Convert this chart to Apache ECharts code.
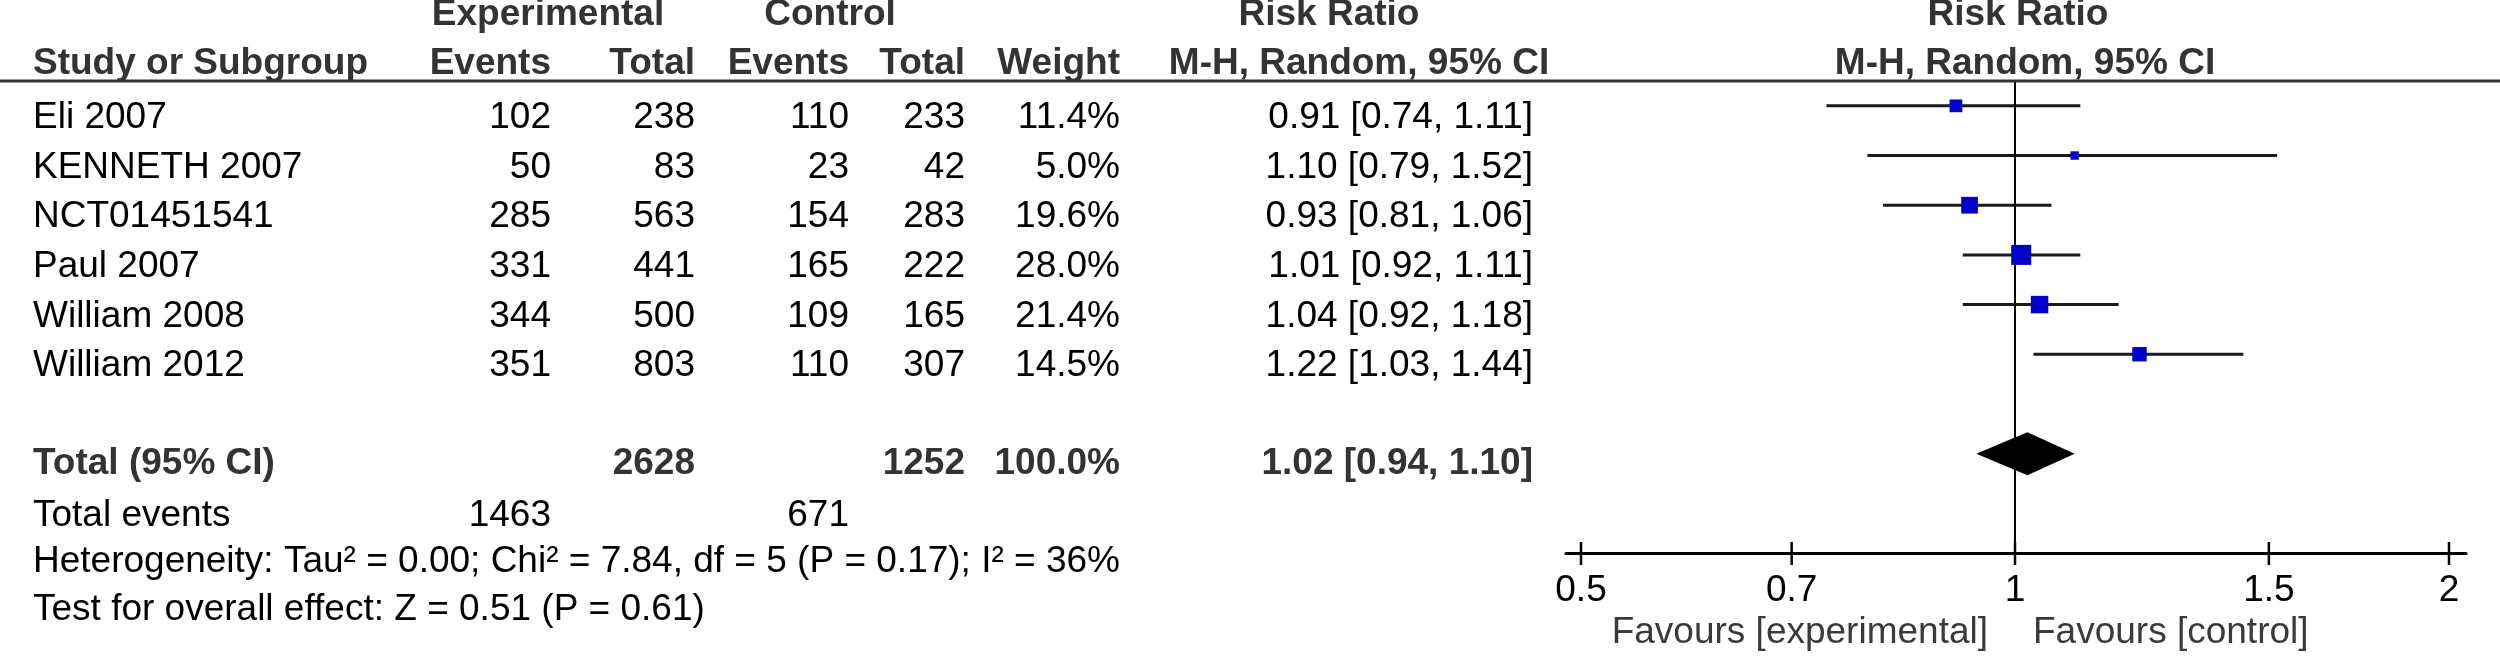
<!DOCTYPE html>
<html><head><meta charset="utf-8">
<script src="https://cdn.jsdelivr.net/npm/echarts@6/dist/echarts.min.js"></script>
<style>html,body{margin:0;padding:0;background:#fff}#c{width:2500px;height:658px}</style>
</head><body><div id="c"></div>
<script>
// ---------------- data ----------------
const studies   = ['Eli 2007', 'KENNETH 2007', 'NCT01451541', 'Paul 2007', 'William 2008', 'William 2012'];
const expEvents = [102, 50, 285, 331, 344, 351];
const expTotal  = [238, 83, 563, 441, 500, 803];
const ctlEvents = [110, 23, 154, 165, 109, 110];
const ctlTotal  = [233, 42, 283, 222, 165, 307];
const weights   = [11.4, 5.0, 19.6, 28.0, 21.4, 14.5];
const rr        = [0.91, 1.10, 0.93, 1.01, 1.04, 1.22];
const lower     = [0.74, 0.79, 0.81, 0.92, 0.92, 1.03];
const upper     = [1.11, 1.52, 1.06, 1.11, 1.18, 1.44];
const pooledTotals = [2628, 1252];        // experimental, control
const pooledWeight = 100.0;
const pooledEffect = [1.02, 0.94, 1.10];  // RR, lower, upper
const totalEvents  = [1463, 671];         // experimental, control
const heterogeneityText = 'Heterogeneity: Tau² = 0.00; Chi² = 7.84, df = 5 (P = 0.17); I² = 36%';
const overallText = 'Test for overall effect: Z = 0.51 (P = 0.61)';
const tickValues = [0.5, 0.7, 1, 1.5, 2];
const favourLabels = ['Favours [experimental]', 'Favours [control]'];

// ---------------- layout / style ----------------
const FONT = "'Liberation Sans', Arial, sans-serif";
const FS = 37;
const HEAD = '#333';
const col = { label: 33, expEv: 551, expTot: 695, ctlEv: 849, ctlTot: 965, weight: 1120, ci: 1533 };
const Y_MIN = -0.5, Y_MAX = 9;
const TOTAL_ROW = 7;

const f2 = v => v.toFixed(2);
const ciText = (r, l, u) => f2(r) + ' [' + f2(l) + ', ' + f2(u) + ']';

const tableRows = [];
tableRows.push({ row: -2, dy: 8, cells: [
  { t: 'Experimental', x: 548, a: 'center', b: true, c: HEAD },
  { t: 'Control', x: 830, a: 'center', b: true, c: HEAD },
  { t: 'Risk Ratio', x: 1329, a: 'center', b: true, c: HEAD },
  { t: 'Risk Ratio', x: 2018, a: 'center', b: true, c: HEAD }
]});
tableRows.push({ row: -1, dy: 8, cells: [
  { t: 'Study or Subgroup', x: col.label, a: 'left', b: true, c: HEAD },
  { t: 'Events', x: col.expEv, a: 'right', b: true, c: HEAD },
  { t: 'Total', x: col.expTot, a: 'right', b: true, c: HEAD },
  { t: 'Events', x: col.ctlEv, a: 'right', b: true, c: HEAD },
  { t: 'Total', x: col.ctlTot, a: 'right', b: true, c: HEAD },
  { t: 'Weight', x: col.weight, a: 'right', b: true, c: HEAD },
  { t: 'M-H, Random, 95% CI', x: 1359, a: 'center', b: true, c: HEAD },
  { t: 'M-H, Random, 95% CI', x: 2025, a: 'center', b: true, c: HEAD }
]});
studies.forEach((s, i) => {
  tableRows.push({ row: i, dy: 12, cells: [
    { t: s, x: col.label, a: 'left' },
    { t: String(expEvents[i]), x: col.expEv, a: 'right' },
    { t: String(expTotal[i]), x: col.expTot, a: 'right' },
    { t: String(ctlEvents[i]), x: col.ctlEv, a: 'right' },
    { t: String(ctlTotal[i]), x: col.ctlTot, a: 'right' },
    { t: weights[i].toFixed(1) + '%', x: col.weight, a: 'right' },
    { t: ciText(rr[i], lower[i], upper[i]), x: col.ci, a: 'right' }
  ]});
});
tableRows.push({ row: TOTAL_ROW, dy: 10, cells: [
  { t: 'Total (95% CI)', x: col.label, a: 'left', b: true, c: HEAD },
  { t: String(pooledTotals[0]), x: col.expTot, a: 'right', b: true, c: HEAD },
  { t: String(pooledTotals[1]), x: col.ctlTot, a: 'right', b: true, c: HEAD },
  { t: pooledWeight.toFixed(1) + '%', x: col.weight, a: 'right', b: true, c: HEAD },
  { t: ciText(pooledEffect[0], pooledEffect[1], pooledEffect[2]), x: col.ci, a: 'right', b: true, c: HEAD }
]});
tableRows.push({ row: 8, dy: 12, cells: [
  { t: 'Total events', x: col.label, a: 'left' },
  { t: String(totalEvents[0]), x: col.expEv, a: 'right' },
  { t: String(totalEvents[1]), x: col.ctlEv, a: 'right' }
]});
tableRows.push({ row: 9, dy: 9, cells: [{ t: heterogeneityText, x: col.label, a: 'left' }]});
tableRows.push({ row: 10, dy: 7, cells: [{ t: overallText, x: col.label, a: 'left' }]});

const chart = echarts.init(document.getElementById('c'), null, { renderer: 'canvas', width: 2500, height: 658 });

function textEl(cell, x, y) {
  return {
    type: 'text', x: x, y: y,
    style: {
      text: cell.t, fill: cell.c || '#000',
      font: (cell.b ? 'bold ' : '') + FS + 'px ' + FONT,
      align: cell.a || 'left', verticalAlign: 'middle'
    }
  };
}

const option = {
  animation: false,
  backgroundColor: '#fff',
  grid: { left: 1566, right: 34, top: 81, bottom: 105 },
  xAxis: [{
    type: 'log', min: 0.48816, max: 2.0551, position: 'bottom',
    splitLine: { show: false }, axisLabel: { show: false }, axisTick: { show: false },
    axisLine: { show: true, onZero: false, lineStyle: { color: '#000', width: 3 } }
  }],
  yAxis: [{
    type: 'value', inverse: true, min: Y_MIN, max: Y_MAX,
    show: false
  }],
  graphic: [{
    type: 'line', shape: { x1: 0, y1: 81, x2: 2500, y2: 81 },
    style: { stroke: '#333', lineWidth: 3 }, z: 10
  }],
  series: [
    { // confidence intervals
      type: 'custom', name: 'ci', z: 3,
      data: studies.map((s, i) => [lower[i], upper[i], i]),
      encode: { x: [0, 1], y: 2 },
      renderItem: (params, api) => {
        const a = api.coord([api.value(0), api.value(2)]);
        const b = api.coord([api.value(1), api.value(2)]);
        return { type: 'line', shape: { x1: a[0], y1: a[1], x2: b[0], y2: b[1] },
                 style: { stroke: '#1a1a1a', lineWidth: 3 } };
      },
      markLine: {
        silent: true, symbol: 'none', label: { show: false },
        lineStyle: { color: '#000', width: 2, type: 'solid' },
        data: [{ xAxis: 1 }]
      }
    },
    { // study squares
      type: 'scatter', name: 'rr', z: 5,
      symbol: 'rect',
      data: studies.map((s, i) => [rr[i], i, weights[i]]),
      symbolSize: v => 3.78 * Math.sqrt(v[2]),
      itemStyle: { color: '#0000c8', opacity: 1 }
    },
    { // pooled diamond
      type: 'custom', name: 'pooled', z: 5,
      data: [[pooledEffect[1], pooledEffect[2], pooledEffect[0], TOTAL_ROW]],
      encode: { x: [0, 1, 2], y: 3 },
      renderItem: (params, api) => {
        const row = api.value(3);
        const l = api.coord([api.value(0), row]);
        const h = api.coord([api.value(1), row]);
        const m = api.coord([api.value(2), row]);
        const hh = 21.5;
        return { type: 'polygon',
          shape: { points: [[l[0], m[1]], [m[0], m[1] - hh], [h[0], m[1]], [m[0], m[1] + hh]] },
          style: { fill: '#000' } };
      }
    },
    { // axis ticks and labels
      type: 'custom', name: 'ticks', z: 6,
      data: tickValues.map(v => [v, Y_MAX]),
      encode: { x: 0, y: 1 },
      renderItem: (params, api) => {
        const v = api.value(0);
        const p = api.coord([v, api.value(1)]);
        return { type: 'group', children: [
          { type: 'line', shape: { x1: p[0], y1: p[1] - 11, x2: p[0], y2: p[1] + 12 },
            style: { stroke: '#000', lineWidth: 2.5 } },
          textEl({ t: String(Math.round(v * 100) / 100), a: 'center', c: '#000' }, p[0], p[1] + 38)
        ]};
      }
    },
    { // favours labels
      type: 'custom', name: 'favours', z: 6,
      data: [[1, 10.6]],
      encode: { x: 0, y: 1 },
      renderItem: (params, api) => {
        const p = api.coord([api.value(0), api.value(1)]);
        return { type: 'group', children: [
          textEl({ t: favourLabels[0], a: 'right', c: '#3a3a3a' }, p[0] - 27, p[1]),
          textEl({ t: favourLabels[1], a: 'left', c: '#3a3a3a' }, p[0] + 18, p[1])
        ]};
      }
    },
    { // table text
      type: 'custom', name: 'table', z: 6,
      data: tableRows.map((r, i) => [1, r.row, i]),
      encode: { x: 0, y: 1 },
      renderItem: (params, api) => {
        const r = tableRows[params.dataIndex];
        const y = api.coord([1, r.row])[1] + r.dy;
        return { type: 'group', children: r.cells.map(c => textEl(c, c.x, y)) };
      }
    }
  ]
};
chart.setOption(option);
</script></body></html>
